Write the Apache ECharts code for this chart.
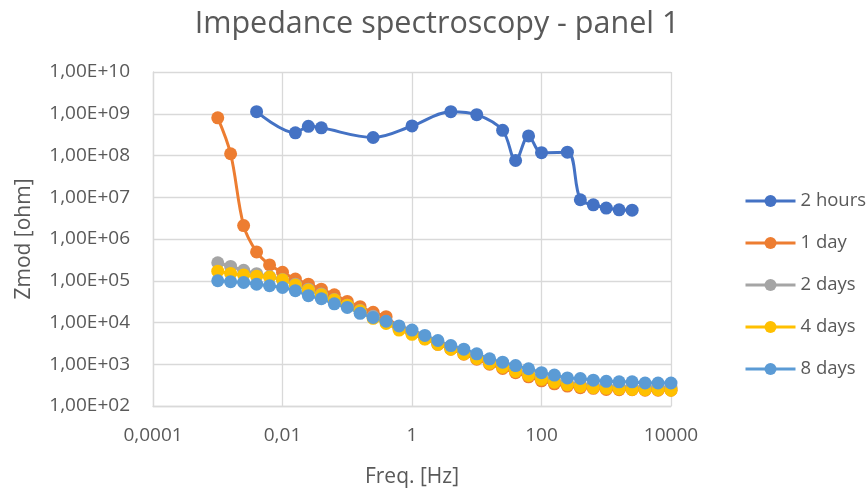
<!DOCTYPE html>
<html>
<head>
<meta charset="utf-8">
<script src="https://cdn.jsdelivr.net/npm/echarts@6/dist/echarts.min.js"></script>
<style>
  html, body { margin: 0; padding: 0; background: #fff; }
  #chart { width: 866px; height: 493px; }
</style>
</head>
<body>
<div id="chart"></div>
<script>
// frequencies [Hz], 5 per decade
var freq = [0.001, 0.00158, 0.00251, 0.00398, 0.00631, 0.01, 0.0158, 0.0251, 0.0398, 0.0631,
            0.1, 0.158, 0.251, 0.398, 0.631, 1, 1.58, 2.51, 3.98, 6.31,
            10, 15.8, 25.1, 39.8, 63.1, 100, 158, 251, 398, 631,
            1000, 1580, 2510, 3980, 6310, 10000];

var freq2h = [0.00398, 0.0158, 0.0251, 0.0398, 0.251, 1, 3.98, 10, 25.1, 39.8,
              63.1, 100, 251, 398, 631, 1000, 1580, 2510];
var zmod2h = [1.12e9, 3.5e8, 5.0e8, 4.6e8, 2.7e8, 5.1e8, 1.12e9, 9.5e8, 4.0e8, 7.6e7,
              2.95e8, 1.17e8, 1.2e8, 8.7e6, 6.6e6, 5.5e6, 5.0e6, 4.9e6];

var zmod1d = [8.0e8, 1.1e8, 2.1e6, 4.9e5, 2.4e5, 1.6e5, 1.1e5, 8.3e4, 6.3e4, 4.6e4,
              3.2e4, 2.4e4, 1.75e4, 1.38e4, 7.6e3, 5.5e3, 4.1e3, 3.0e3, 2.3e3, 1.74e3,
              1.32e3, 1.0e3, 795, 630, 500, 400, 340, 300, 275, 265,
              250, 245, 245, 240, 240, 240];

var zmod2d = [2.7e5, 2.2e5, 1.78e5, 1.48e5, 1.26e5, 1.07e5, 8.3e4, 6.3e4, 4.8e4, 3.55e4,
              2.6e4, 1.95e4, 1.41e4, 1.05e4, 7.2e3, 5.75e3, 4.3e3, 3.2e3, 2.45e3, 1.9e3,
              1.48e3, 1.15e3, 910, 740, 600, 490, 415, 365, 340, 315,
              300, 295, 290, 290, 290, 280];

var zmod4d = [1.7e5, 1.5e5, 1.38e5, 1.29e5, 1.23e5, 1.05e5, 7.9e4, 6.0e4, 4.6e4, 3.5e4,
              2.6e4, 1.9e4, 1.26e4, 9.5e3, 6.6e3, 5.2e3, 4.0e3, 3.0e3, 2.3e3, 1.78e3,
              1.38e3, 1.05e3, 850, 675, 540, 435, 370, 325, 295, 275,
              265, 255, 250, 245, 245, 240];

var zmod8d = [1.0e5, 9.5e4, 9.1e4, 8.3e4, 7.6e4, 6.9e4, 5.8e4, 4.4e4, 3.7e4, 2.8e4,
              2.3e4, 1.66e4, 1.32e4, 1.07e4, 8.3e3, 6.6e3, 4.9e3, 3.7e3, 2.8e3, 2.3e3,
              1.78e3, 1.35e3, 1.12e3, 930, 780, 630, 550, 470, 455, 415,
              390, 380, 380, 355, 355, 355];

var seriesNames = ['2 hours', '1 day', '2 days', '4 days', '8 days'];
var colors = ['#4472C4', '#ED7D31', '#A5A5A5', '#FFC000', '#5B9BD5'];

function pairs(xs, ys) {
    return xs.map(function (x, i) { return [x, ys[i]]; });
}

var seriesData = [
    pairs(freq2h, zmod2h),
    pairs(freq, zmod1d),
    pairs(freq, zmod2d),
    pairs(freq, zmod4d),
    pairs(freq, zmod8d)
];

var textColor = '#595959';
var gridColor = '#D9D9D9';
var font = '"Open Sans", "Noto Sans", sans-serif';

var chart = echarts.init(document.getElementById('chart'), null, { renderer: 'canvas' });

var option = {
    animation: false,
    color: colors,
    title: {
        text: 'Impedance spectroscopy - panel 1',
        left: 432,
        top: 4,
        textAlign: 'center',
        textStyle: { color: textColor, fontSize: 30.5, fontWeight: 'normal', fontFamily: font }
    },
    legend: {
        orient: 'vertical',
        left: 739,
        top: 186,
        itemWidth: 50,
        itemHeight: 15,
        itemGap: 22,
        lineStyle: { width: 3 },
        textStyle: { color: textColor, fontSize: 18.5, lineHeight: 20, fontFamily: font },
        data: seriesNames
    },
    grid: { left: 153, right: 195, top: 72, bottom: 82, containLabel: false },
    xAxis: {
        type: 'log',
        logBase: 100,
        min: 0.0001,
        max: 10000,
        name: 'Freq. [Hz]',
        nameLocation: 'middle',
        nameGap: 61,
        nameTextStyle: { color: textColor, fontSize: 21, fontFamily: font },
        axisLine: { show: true, lineStyle: { color: gridColor, width: 1.3 } },
        axisTick: { show: false },
        minorTick: { show: false },
        axisLabel: {
            color: textColor, fontSize: 19, fontFamily: font, margin: 20,
            formatter: function (v) {
                return String(Number(v.toPrecision(6))).replace('.', ',');
            }
        },
        splitLine: { show: true, lineStyle: { color: gridColor, width: 1.3 } }
    },
    yAxis: {
        type: 'log',
        logBase: 10,
        min: 100,
        max: 1e10,
        splitNumber: 8,
        name: 'Zmod [ohm]',
        nameLocation: 'middle',
        nameGap: 118,
        nameTextStyle: { color: textColor, fontSize: 21, fontFamily: font },
        axisLine: { show: true, lineStyle: { color: gridColor, width: 1.3 } },
        axisTick: { show: false },
        axisLabel: {
            color: textColor, fontSize: 19, fontFamily: font, margin: 23,
            formatter: function (v) {
                var e = Math.round(Math.log10(v));
                return '1,00E+' + (e < 10 ? '0' + e : e);
            }
        },
        splitLine: { show: true, lineStyle: { color: gridColor, width: 1.3 } }
    },
    series: seriesNames.map(function (name, i) {
        return {
            name: name,
            type: 'line',
            data: seriesData[i],
            smooth: 0.35,
            symbol: 'circle',
            symbolSize: 13,
            lineStyle: { width: 3, color: colors[i] },
            itemStyle: { color: colors[i] }
        };
    })
};

chart.setOption(option);
</script>
</body>
</html>
